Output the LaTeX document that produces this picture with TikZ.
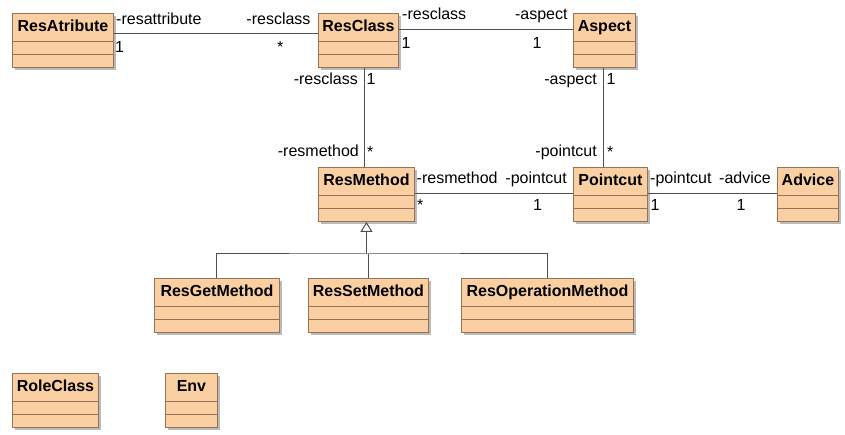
\documentclass[tikz,border=0pt]{standalone}
\usepackage{fontspec}
\setmainfont{Liberation Sans}
\usetikzlibrary{shadows,arrows.meta}
\definecolor{clsfill}{RGB}{250,208,162}
\definecolor{clsdraw}{RGB}{150,115,88}
\definecolor{conn}{RGB}{80,80,80}
\tikzset{
 clsbox/.style={draw=clsdraw, fill=clsfill, line width=0.9pt, minimum height=54pt, inner sep=0pt, anchor=north west,
   drop shadow={shadow xshift=3pt, shadow yshift=-3pt, fill=black!45, opacity=0.6}},
 clstitle/.style={font=\fontsize{16}{19}\selectfont\bfseries, inner sep=0pt, anchor=base},
 clsline/.style={draw=clsdraw, line width=0.9pt},
 lbl/.style={font=\fontsize{16}{19}\selectfont, inner sep=0pt},
 assoc/.style={draw=conn, line width=1pt},
 gen/.style={draw=conn, line width=1pt, -{Triangle[open, length=10pt, width=12pt, fill=white]}},
}
\newcommand\umlcls[5]{%
 \node[clsbox, minimum width=#4pt] (#1) at (#2,#3) {};
 \node[clstitle] (#1t) at ([yshift=-18.7pt]#1.north) {#5};
 \draw[clsline] ([yshift=-28pt]#1.north west) -- ([yshift=-28pt]#1.north east);
 \draw[clsline] ([yshift=-41pt]#1.north west) -- ([yshift=-41pt]#1.north east);
}
\begin{document}
\begin{tikzpicture}[x=1pt,y=-1pt]
\useasboundingbox (0,0) rectangle (845,435);
% classes
\umlcls{ra}{12}{13}{101}{ResAtribute}
\umlcls{rc}{318}{13}{80}{ResClass}
\umlcls{as}{573}{13}{62}{Aspect}
\umlcls{rm}{318}{167}{96}{ResMethod}
\umlcls{pc}{573}{167}{74}{Pointcut}
\umlcls{ad}{777}{167}{61}{Advice}
\umlcls{rgm}{154}{278}{125}{ResGetMethod}
\umlcls{rsm}{308}{278}{120}{ResSetMethod}
\umlcls{rom}{461}{278}{172}{ResOperationMethod}
\umlcls{rlc}{12}{373}{86}{RoleClass}
\umlcls{env}{165}{373}{52}{Env}
% associations
\draw[assoc] ([yshift=6.7pt]ra.east) -- ([yshift=6.7pt]rc.west);
\draw[assoc] ([yshift=10.7pt]rc.east) -- ([yshift=10.7pt]as.west);
\draw[assoc] ([xshift=6.3pt]rc.south) -- ([xshift=6.3pt]rc.south |- rm.north);
\draw[assoc] ([xshift=-0.7pt]as.south) -- ([xshift=-0.7pt]as.south |- pc.north);
\draw[assoc] ([yshift=1.3pt]rm.east) -- ([yshift=1.3pt]pc.west);
\draw[assoc] ([yshift=1.3pt]pc.east) -- ([yshift=1.3pt]ad.west);
% generalization
\coordinate (gj) at (rm.south |- 0,254);
\draw[gen] (gj) -- (rm.south);
\draw[assoc] (rgm.north) |- (gj) -| (rom.north);
\draw[assoc] (rsm.north) -- (rsm.north |- gj);
% labels
\node[lbl, anchor=base west] (l1) at (116,24.3) {-resattribute};
\node[lbl, anchor=base west] (l2) at (115,52.3) {1};
\node[lbl, anchor=base east] (l3) at (310.7,24.3) {-resclass};
\node[lbl, anchor=base west] (l4) at (277,52.3) {*};
\node[lbl, anchor=base west] (l5) at (402,20) {-resclass};
\node[lbl, anchor=base west] (l6) at (401.5,48.3) {1};
\node[lbl, anchor=base east] (l7) at (567.7,20) {-aspect};
\node[lbl, anchor=base west] (l8) at (532.5,48.3) {1};
\node[lbl, anchor=base east] (l9) at (358,85) {-resclass};
\node[lbl, anchor=base west] (l10) at (366.5,85) {1};
\node[lbl, anchor=base east] (l11) at (359,156.7) {-resmethod};
\node[lbl, anchor=base west] (l12) at (367,157.5) {*};
\node[lbl, anchor=base east] (l13) at (597,85) {-aspect};
\node[lbl, anchor=base west] (l14) at (606.5,85) {1};
\node[lbl, anchor=base east] (l15) at (597,156.7) {-pointcut};
\node[lbl, anchor=base west] (l16) at (607,157.5) {*};
\node[lbl, anchor=base west] (l17) at (416.5,183.3) {-resmethod};
\node[lbl, anchor=base east] (l18) at (567,183.3) {-pointcut};
\node[lbl, anchor=base west] (l19) at (417,211) {*};
\node[lbl, anchor=base west] (l20) at (533,211) {1};
\node[lbl, anchor=base west] (l21) at (650,183.3) {-pointcut};
\node[lbl, anchor=base east] (l22) at (771,183.3) {-advice};
\node[lbl, anchor=base west] (l23) at (650.5,211) {1};
\node[lbl, anchor=base west] (l24) at (736.5,211) {1};
\end{tikzpicture}
\end{document}
